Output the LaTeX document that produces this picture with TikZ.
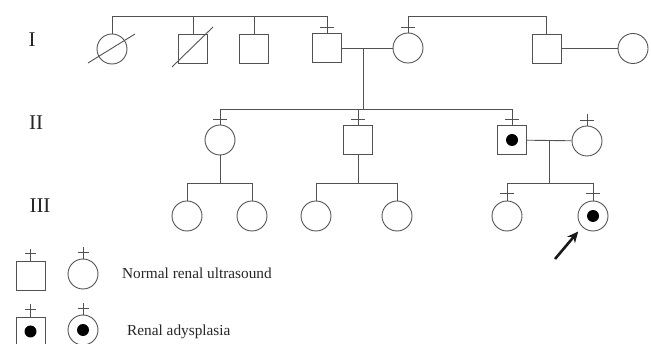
\documentclass[tikz,border=0pt]{standalone}
\usepackage{fontspec}
\setmainfont{Liberation Serif}
\usetikzlibrary{arrows.meta}
\begin{document}
\begin{tikzpicture}[x=1pt,y=-1pt,
  ln/.style={draw=black!68, line width=0.9pt},
  fem/.style={circle, ln, minimum size=30pt, inner sep=0pt},
  mal/.style={rectangle, ln, minimum size=29pt, inner sep=0pt},
  aff/.style={path picture={\fill[black] (path picture bounding box.center) circle (6pt);}},
  gen/.style={font=\fontsize{21}{21}\selectfont, text=black!85},
  leg/.style={font=\fontsize{15.3}{16}\selectfont, anchor=west, text=black!85, inner sep=0pt},
  arr/.style={line width=2.6pt, black!90, -{Stealth[length=11pt,width=10pt]}}]
\clip (0,0) rectangle (651,344);
\useasboundingbox (0,0) rectangle (651,344);
% generation labels
\node[gen] (gI) at (32,40) {I};
\node[gen] (gII) at (36,123) {II};
\node[gen] (gIII) at (40,206) {III};
% generation I
\node[fem] (I1) at (112,49) {};
\node[mal] (I2) at (193,48.5) {};
\node[mal] (I3) at (254,48.5) {};
\node[mal] (I4) at (327,48) {};
\node[fem] (I5) at (408,48) {};
\node[mal] (I6) at (546.5,48.5) {};
\node[fem] (I7) at (633,48.5) {};
\draw[ln] (88,63) -- (135,34);
\draw[ln] (172,67) -- (213,27);
\coordinate (s1a) at (112,16);
\coordinate (s1b) at (327,16);
\draw[ln] (I1.north) -- (s1a) -- (s1b) -- (I4.north);
\draw[ln] (I2.north) -- (I2.north |- s1a);
\draw[ln] (I3.north) -- (I3.north |- s1a);
\draw[ln] (320,27) -- (334,27);
\coordinate (s2a) at (408,16);
\coordinate (s2b) at (546.5,16);
\draw[ln] (I5.north) -- (s2a) -- (s2b) -- (I6.north);
\draw[ln] (401,27) -- (415,27);
\draw[ln] (I4) -- (I5);
\draw[ln] (I6) -- (I7);
\coordinate (m1) at (363,48);
\coordinate (s3m) at (363,109);
\draw[ln] (m1) -- (s3m);
% generation II
\node[fem] (II1) at (220,140) {};
\node[mal] (II2) at (358,140) {};
\node[mal, aff] (II3) at (512,140) {};
\node[fem] (II4) at (587,141) {};
\coordinate (s3a) at (220,109);
\coordinate (s3b) at (512,109);
\draw[ln] (II1.north) -- (s3a) -- (s3b) -- (II3.north);
\draw[ln] (II2.north) -- (II2.north |- s3a);
\draw[ln] (213,119) -- (227,119);
\draw[ln] (351,119) -- (365,119);
\draw[ln] (505,119) -- (519,119);
\draw[ln] (II4.north) -- (587,114);
\draw[ln] (580,120) -- (594,120);
\draw[ln] (II3) -- (II4);
\coordinate (m2) at (549,140);
\coordinate (s6m) at (549,183);
\draw[ln] (m2) -- (s6m);
% generation III
\node[fem] (III1) at (187,216) {};
\node[fem] (III2) at (252,216) {};
\node[fem] (III3) at (316,216) {};
\node[fem] (III4) at (397,216) {};
\node[fem] (III5) at (507,216) {};
\node[fem, aff] (III6) at (593,216) {};
\coordinate (s4m) at (220,183);
\draw[ln] (II1.south) -- (s4m);
\draw[ln] (III1.north) -- (III1.north |- s4m) -- (III2.north |- s4m) -- (III2.north);
\coordinate (s5m) at (358,183);
\draw[ln] (II2.south) -- (s5m);
\draw[ln] (III3.north) -- (III3.north |- s5m) -- (III4.north |- s5m) -- (III4.north);
\draw[ln] (III5.north) -- (III5.north |- s6m) -- (III6.north |- s6m) -- (III6.north);
\draw[ln] (500,193) -- (514,193);
\draw[ln] (586,193) -- (600,193);
\coordinate (arrtail) at (555,259);
\draw[arr, shorten >=6pt] (arrtail) -- (III6.south west);
% legend
\node[mal] (L1) at (30.5,275.5) {};
\node[fem] (L2) at (83,274) {};
\node[mal, aff] (L3) at (30.5,331.5) {};
\node[fem, aff] (L4) at (83,330) {};
\draw[ln] (L1.north) -- (30.5,249);
\draw[ln] (25,253) -- (36,253);
\draw[ln] (L2.north) -- (83,247);
\draw[ln] (77.5,252) -- (88.5,252);
\draw[ln] (L3.north) -- (30.5,304);
\draw[ln] (25,309) -- (36,309);
\draw[ln] (L4.north) -- (83,303);
\draw[ln] (77.5,308) -- (88.5,308);
\node[leg] (t1) at (122,273) {Normal renal ultrasound};
\node[leg] (t2) at (127,332) {Renal adysplasia};
\end{tikzpicture}
\end{document}
